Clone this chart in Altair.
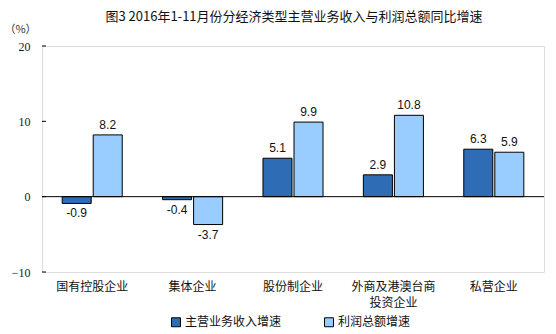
import altair as alt
import pandas as pd

categories = ["国有控股企业", "集体企业", "股份制企业", "外商及港澳台商投资企业", "私营企业"]
series_names = ["主营业务收入增速", "利润总额增速"]
revenue = [-0.9, -0.4, 5.1, 2.9, 6.3]
profit = [8.2, -3.7, 9.9, 10.8, 5.9]
y_ticks = [-10, 0, 10, 20]

rows = []
for c, r, p in zip(categories, revenue, profit):
    rows.append({"cat": c, "series": series_names[0], "value": r, "label": f"{r:.1f}"})
    rows.append({"cat": c, "series": series_names[1], "value": p, "label": f"{p:.1f}"})
df = pd.DataFrame(rows)

x_enc = alt.X("cat:N", sort=categories, scale=alt.Scale(paddingInner=0, paddingOuter=0),
              axis=alt.Axis(title=None, labelAngle=0, ticks=False, domain=False,
                            labelFont="Noto Sans CJK SC", labelFontSize=12, labelColor="#111",
                            labelPadding=9, labelBaseline="top", labelLineHeight=16,
                            labelExpr="datum.value == '外商及港澳台商投资企业' ? ['外商及港澳台商', '投资企业'] : datum.value"))
xoff = alt.XOffset("series:N", sort=series_names,
                   scale=alt.Scale(paddingInner=0.065, paddingOuter=0.65))
y_scale = alt.Scale(domain=[-10, 20], nice=False)

bars = alt.Chart(df).mark_bar(stroke="black", strokeWidth=1).encode(
    x=x_enc,
    xOffset=xoff,
    y=alt.Y("value:Q", scale=y_scale,
            axis=alt.Axis(values=y_ticks, title="（%）", titleAngle=0, titleX=-22, titleY=-12,
                          titleFont="Noto Sans CJK SC", titleFontSize=11, titleFontWeight="normal",
                          titleAlign="center", titleColor="#333",
                          labelFont="Liberation Serif", labelFontSize=12, labelColor="#222",
                          labelPadding=12, ticks=False, domain=False, grid=False)),
    color=alt.Color("series:N", sort=series_names,
                    scale=alt.Scale(domain=series_names, range=["#2E6DB5", "#99CCFF"]),
                    legend=alt.Legend(title=None, orient="none", direction="horizontal",
                                      legendX=128, legendY=270, symbolType="square",
                                      symbolSize=80, symbolStrokeColor="black", symbolStrokeWidth=1,
                                      labelFont="Noto Sans CJK SC", labelFontSize=12,
                                      labelColor="#111", columnPadding=40, labelOffset=3)),
)

pos_labels = alt.Chart(df).transform_filter("datum.value >= 0").mark_text(
    baseline="bottom", dy=-3, font="Liberation Sans", fontSize=12, color="#111"
).encode(x=alt.X("cat:N", sort=categories), xOffset=xoff,
         y=alt.Y("value:Q", scale=y_scale), text="label:N")

neg_labels = alt.Chart(df).transform_filter("datum.value < 0").mark_text(
    baseline="top", dy=5, font="Liberation Sans", fontSize=12, color="#111"
).encode(x=alt.X("cat:N", sort=categories), xOffset=xoff,
         y=alt.Y("value:Q", scale=y_scale), text="label:N")

zero_df = pd.DataFrame({"v": [0]})
zero = alt.Chart(zero_df).mark_rule(color="black", strokeWidth=1).encode(y=alt.Y("v:Q", scale=y_scale))

tick_df = pd.DataFrame({"v": y_ticks})
ticks = alt.Chart(tick_df).mark_rule(color="black", strokeWidth=1).encode(
    y=alt.Y("v:Q", scale=y_scale), x=alt.value(0), x2=alt.value(4))

title_df = pd.DataFrame({"t": ["图3 2016年1-11月份分经济类型主营业务收入与利润总额同比增速"]})
title = alt.Chart(title_df).mark_text(
    font="Noto Sans CJK SC", fontSize=13, color="#111", baseline="middle", align="center"
).encode(x=alt.value(252), y=alt.value(-29), text="t:N")

chart = alt.layer(bars, zero, ticks, pos_labels, neg_labels, title).properties(
    width=502, height=226,
    autosize=alt.AutoSizeParams(type="none"),
    padding={"left": 42, "top": 46, "right": 12, "bottom": 62},
).configure_view(stroke="black", strokeWidth=1.2).configure(background="white")

chart.save("out.html", embed_options={"renderer": "svg", "actions": False})
